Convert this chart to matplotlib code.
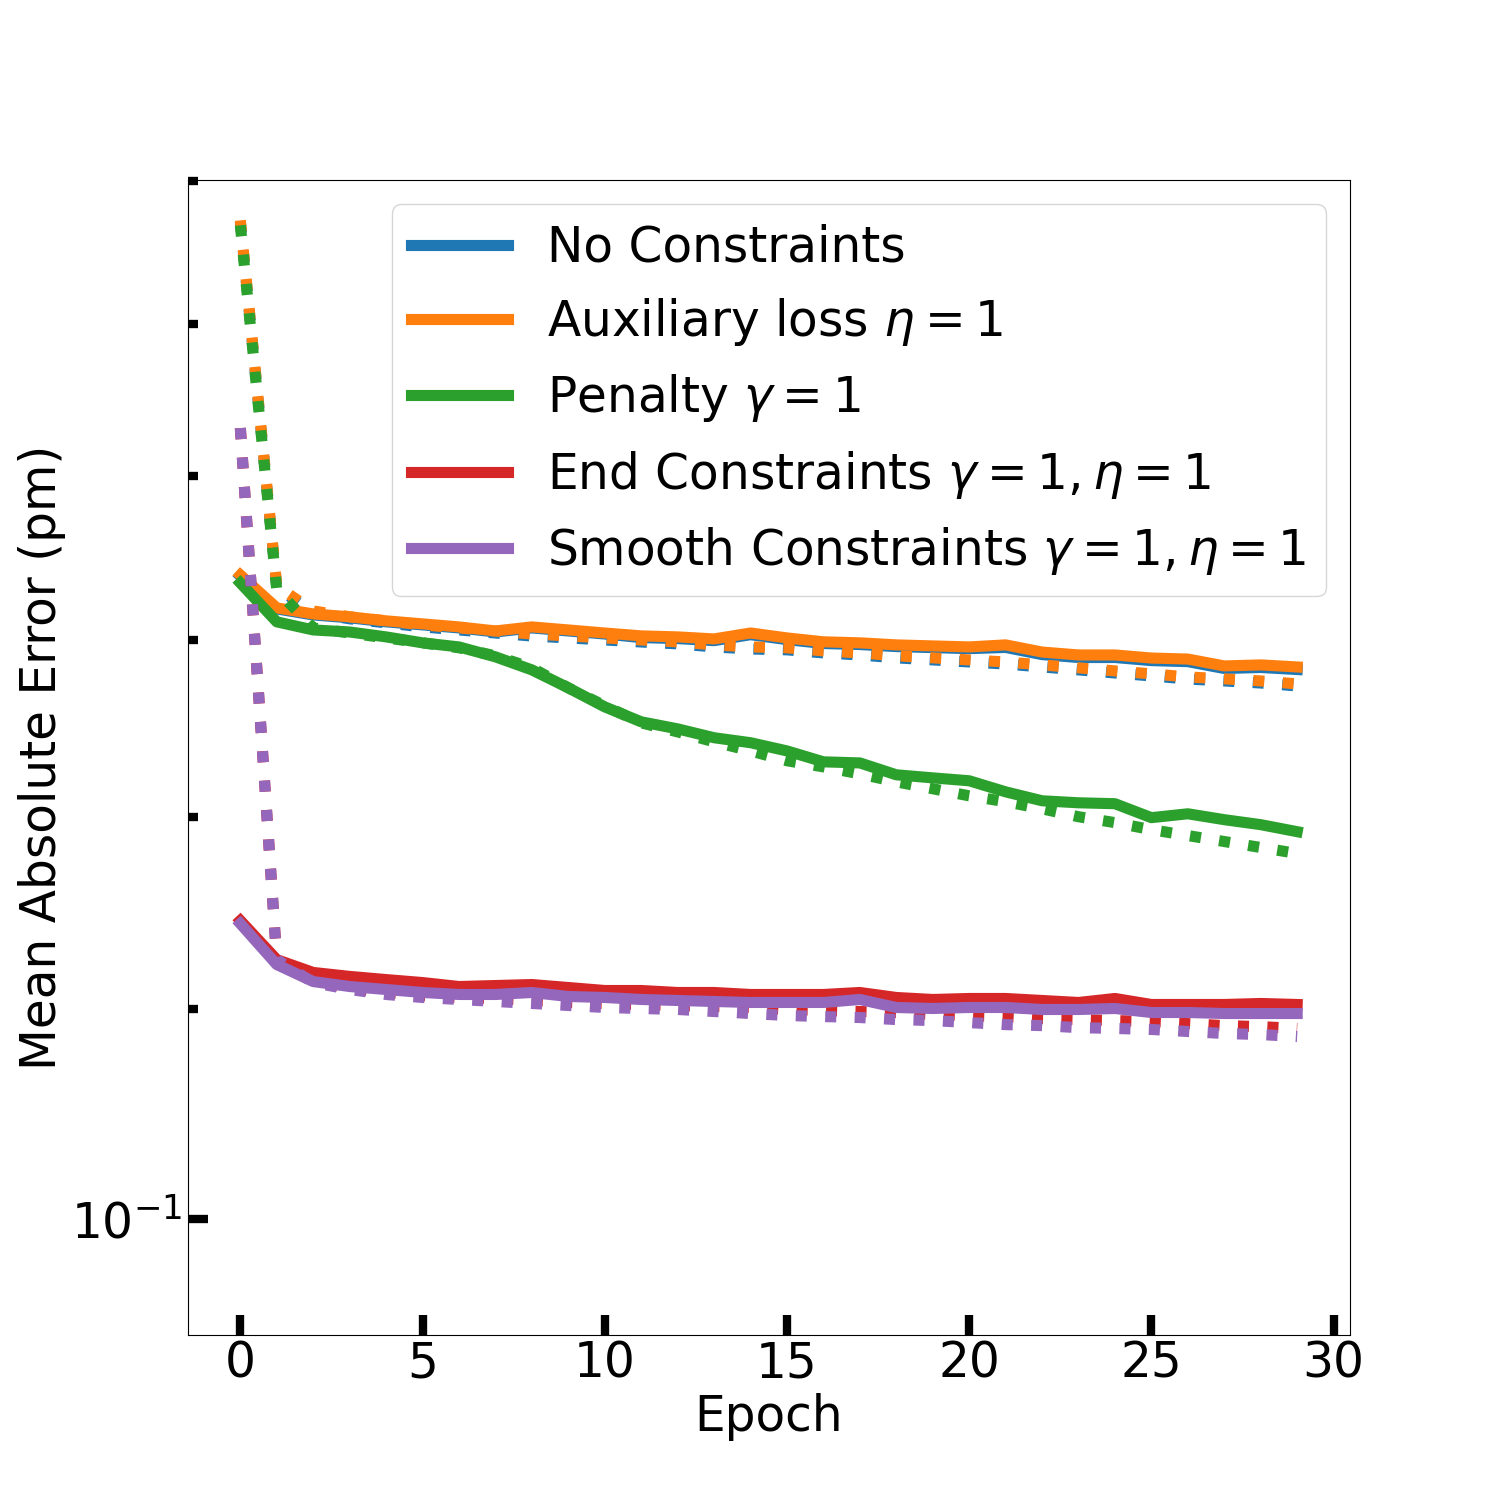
import numpy as np
import matplotlib
matplotlib.use("Agg")
import matplotlib.pyplot as plt
from matplotlib.ticker import NullFormatter

plt.rcParams["font.size"] = 35

epochs = np.arange(30)

methods = [
    "No Constraints",
    r"Auxiliary loss $\eta=1$",
    r"Penalty $\gamma=1$",
    r"End Constraints $\gamma=1, \eta=1$",
    r"Smooth Constraints $\gamma=1, \eta=1$",
]
colors = ["tab:blue", "tab:orange", "tab:green", "tab:red", "tab:purple"]

# training curves (solid)
none_train = [0.13382, 0.13184, 0.13148, 0.13131, 0.13107, 0.13089, 0.13071, 0.13047, 0.13071, 0.13053,
              0.13035, 0.13014, 0.13008, 0.12996, 0.13031, 0.13002, 0.12979, 0.12973, 0.12961, 0.12955,
              0.12949, 0.12956, 0.12914, 0.12897, 0.12897, 0.12879, 0.12873, 0.12833, 0.12839, 0.12827]
aux_train = [0.13388, 0.13190, 0.13154, 0.13137, 0.13113, 0.13095, 0.13077, 0.13053, 0.13077, 0.13059,
             0.13041, 0.13024, 0.13018, 0.13006, 0.13041, 0.13012, 0.12989, 0.12983, 0.12971, 0.12965,
             0.12959, 0.12971, 0.12929, 0.12912, 0.12912, 0.12894, 0.12888, 0.12848, 0.12854, 0.12842]
penalty_train = [0.13340, 0.13107, 0.13059, 0.13047, 0.13018, 0.12983, 0.12959, 0.12901, 0.12825, 0.12721,
                 0.12612, 0.12527, 0.12487, 0.12437, 0.12409, 0.12363, 0.12302, 0.12296, 0.12230, 0.12213,
                 0.12197, 0.12136, 0.12087, 0.12076, 0.12071, 0.11995, 0.12016, 0.11984, 0.11957, 0.11919]
end_train = [0.11449, 0.11248, 0.11183, 0.11163, 0.11147, 0.11132, 0.11112, 0.11117, 0.11122, 0.11107,
             0.11092, 0.11092, 0.11082, 0.11082, 0.11072, 0.11072, 0.11072, 0.11082, 0.11057, 0.11047,
             0.11052, 0.11052, 0.11042, 0.11032, 0.11052, 0.11022, 0.11022, 0.11022, 0.11027, 0.11022]
smooth_train = [0.11433, 0.11223, 0.11137, 0.11112, 0.11097, 0.11082, 0.11072, 0.11072, 0.11082, 0.11062,
                0.11057, 0.11047, 0.11042, 0.11037, 0.11032, 0.11032, 0.11032, 0.11047, 0.11007, 0.11002,
                0.11007, 0.11007, 0.10997, 0.10997, 0.11002, 0.10982, 0.10982, 0.10977, 0.10977, 0.10977]

# validation curves (dotted)
none_val = [0.15710, 0.13312, 0.13160, 0.13125, 0.13101, 0.13077, 0.13059, 0.13041, 0.13023, 0.13012,
            0.13000, 0.12988, 0.12977, 0.12959, 0.12947, 0.12942, 0.12924, 0.12912, 0.12895, 0.12883,
            0.12871, 0.12859, 0.12842, 0.12825, 0.12807, 0.12790, 0.12772, 0.12761, 0.12749, 0.12732]
aux_val = [0.15720, 0.13322, 0.13172, 0.13137, 0.13113, 0.13089, 0.13071, 0.13053, 0.13035, 0.13024,
           0.13012, 0.13000, 0.12989, 0.12971, 0.12959, 0.12954, 0.12936, 0.12924, 0.12907, 0.12895,
           0.12883, 0.12871, 0.12854, 0.12837, 0.12819, 0.12802, 0.12784, 0.12773, 0.12761, 0.12744]
penalty_val = [0.15685, 0.13298, 0.13071, 0.13041, 0.13012, 0.12983, 0.12954, 0.12907, 0.12837, 0.12721,
               0.12618, 0.12521, 0.12470, 0.12414, 0.12363, 0.12308, 0.12274, 0.12235, 0.12191, 0.12153,
               0.12114, 0.12082, 0.12043, 0.12000, 0.11968, 0.11930, 0.11898, 0.11866, 0.11834, 0.11802]
end_val = [0.14309, 0.11248, 0.11137, 0.11102, 0.11082, 0.11067, 0.11057, 0.11052, 0.11042, 0.11032,
           0.11027, 0.11022, 0.11017, 0.11012, 0.11007, 0.10997, 0.10992, 0.10987, 0.10982, 0.10972,
           0.10967, 0.10962, 0.10952, 0.10947, 0.10942, 0.10937, 0.10927, 0.10917, 0.10912, 0.10903]
smooth_val = [0.14309, 0.11248, 0.11132, 0.11097, 0.11072, 0.11057, 0.11047, 0.11037, 0.11027, 0.11017,
              0.11007, 0.11002, 0.10997, 0.10987, 0.10977, 0.10967, 0.10962, 0.10957, 0.10947, 0.10942,
              0.10932, 0.10922, 0.10917, 0.10907, 0.10903, 0.10898, 0.10888, 0.10878, 0.10873, 0.10863]

train_curves = [none_train, aux_train, penalty_train, end_train, smooth_train]
val_curves = [none_val, aux_val, penalty_val, end_val, smooth_val]


def main():
    fig, ax = plt.subplots(figsize=(15, 15), dpi=100)

    for name, c, tr, va in zip(methods, colors, train_curves, val_curves):
        ax.plot(epochs, tr, "-", color=c, lw=8, label=name)
        ax.plot(epochs, va, ":", color=c, lw=8)

    ax.set_yscale("log")
    ax.set_ylim(0.0949, 0.1601)
    ax.yaxis.set_minor_formatter(NullFormatter())

    ax.tick_params(which="major", direction="in", length=14.5, width=6)
    ax.tick_params(which="minor", direction="in", length=7, width=6)

    ax.set_xlabel("Epoch")
    ax.set_ylabel("Mean Absolute Error (pm)")
    ax.legend(loc="upper right")

    fig.savefig("out.png", dpi=100)


if __name__ == "__main__":
    main()
